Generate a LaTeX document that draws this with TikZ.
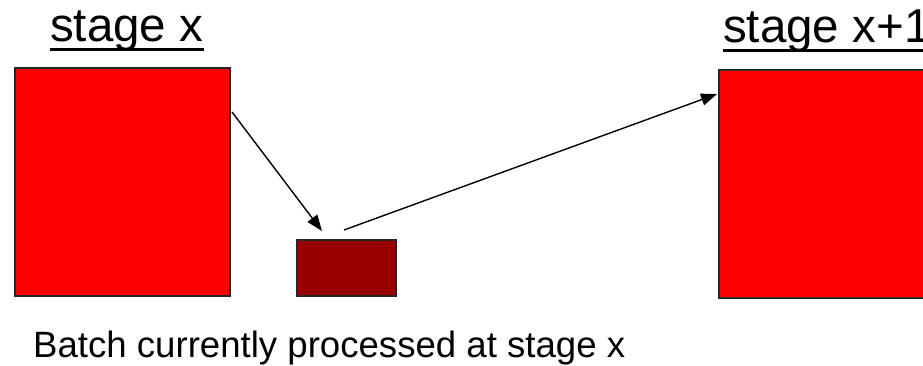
\documentclass[tikz,border=0pt]{standalone}
\usepackage{fontspec}
\setmainfont{Liberation Sans}
\usetikzlibrary{arrows.meta}
\definecolor{stagered}{HTML}{FF0000}
\definecolor{batchred}{HTML}{990000}
\begin{document}
\begin{tikzpicture}[x=1pt,y=-1pt,
  stagebox/.style={draw=black!85,line width=1.2pt,fill=stagered},
  batchbox/.style={draw=black!85,line width=1.2pt,fill=batchred},
  title/.style={inner sep=0pt,anchor=base west,font=\fontsize{47.5}{56}\selectfont},
  caption/.style={inner sep=0pt,anchor=base west,font=\fontsize{36.6}{44}\selectfont},
  conn/.style={line width=1.4pt,-{Triangle[length=16pt,width=12pt]}}]
\useasboundingbox (0,0) rectangle (923,366);
\clip (0,0) rectangle (923,366);
\fill[white] (0,0) rectangle (923,366);
\draw[stagebox] (15,68) rectangle (230,296);
\draw[batchbox] (297,240) rectangle (396,296);
\draw[stagebox] (719,70) rectangle (940,298);
\node[title] (t1) at (50,42) {stage x};
\node[title] (t2) at (723,43) {stage x+1};
\draw[line width=3pt] ([yshift=-7.5pt]t1.base west) -- ([yshift=-7.5pt]t1.base east);
\draw[line width=3pt] ([yshift=-7.5pt]t2.base west) -- ([yshift=-7.5pt]t2.base east);
\node[caption] (cap) at (33,357) {Batch currently processed at stage x};
\coordinate (a1s) at (232,112);
\coordinate (a1e) at (322,231);
\coordinate (a2s) at (344,230);
\coordinate (a2e) at (717,94);
\draw[conn] (a1s) -- (a1e);
\draw[conn] (a2s) -- (a2e);
\end{tikzpicture}
\end{document}
